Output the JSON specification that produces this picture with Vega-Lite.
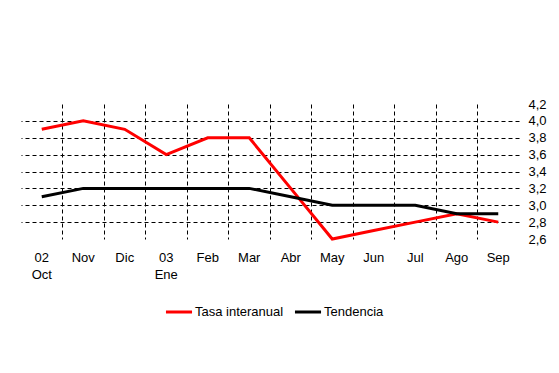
{
  "$schema": "https://vega.github.io/schema/vega-lite/v6.json",
  "width": 498,
  "height": 135,
  "autosize": {"type": "none"},
  "padding": {"left": 21, "top": 104, "right": 40, "bottom": 134},
  "background": "white",
  "config": {
    "view": {"stroke": null},
    "font": "Liberation Sans",
    "axis": {"labelFont": "Liberation Sans", "labelFontSize": 12, "labelColor": "black"},
    "legend": {"labelFont": "Liberation Sans", "labelFontSize": 12, "labelColor": "black"}
  },
  "data": {
    "values": [
      {"mes": "Oct", "serie": "Tasa interanual", "valor": 3.9},
      {"mes": "Nov", "serie": "Tasa interanual", "valor": 4.0},
      {"mes": "Dic", "serie": "Tasa interanual", "valor": 3.9},
      {"mes": "Ene", "serie": "Tasa interanual", "valor": 3.6},
      {"mes": "Feb", "serie": "Tasa interanual", "valor": 3.8},
      {"mes": "Mar", "serie": "Tasa interanual", "valor": 3.8},
      {"mes": "Abr", "serie": "Tasa interanual", "valor": 3.2},
      {"mes": "May", "serie": "Tasa interanual", "valor": 2.6},
      {"mes": "Jun", "serie": "Tasa interanual", "valor": 2.7},
      {"mes": "Jul", "serie": "Tasa interanual", "valor": 2.8},
      {"mes": "Ago", "serie": "Tasa interanual", "valor": 2.9},
      {"mes": "Sep", "serie": "Tasa interanual", "valor": 2.8},
      {"mes": "Oct", "serie": "Tendencia", "valor": 3.1},
      {"mes": "Nov", "serie": "Tendencia", "valor": 3.2},
      {"mes": "Dic", "serie": "Tendencia", "valor": 3.2},
      {"mes": "Ene", "serie": "Tendencia", "valor": 3.2},
      {"mes": "Feb", "serie": "Tendencia", "valor": 3.2},
      {"mes": "Mar", "serie": "Tendencia", "valor": 3.2},
      {"mes": "Abr", "serie": "Tendencia", "valor": 3.1},
      {"mes": "May", "serie": "Tendencia", "valor": 3.0},
      {"mes": "Jun", "serie": "Tendencia", "valor": 3.0},
      {"mes": "Jul", "serie": "Tendencia", "valor": 3.0},
      {"mes": "Ago", "serie": "Tendencia", "valor": 2.9},
      {"mes": "Sep", "serie": "Tendencia", "valor": 2.9}
    ]
  },
  "mark": {"type": "line", "strokeWidth": 3, "strokeJoin": "miter"},
  "encoding": {
    "x": {
      "field": "mes",
      "type": "nominal",
      "sort": null,
      "scale": {"type": "band", "paddingInner": 0, "paddingOuter": 0},
      "axis": {
        "title": null,
        "domain": false,
        "ticks": false,
        "labelAngle": 0,
        "labelPadding": 12,
        "labelBaseline": "top",
        "labelFontSize": 13,
        "labelLineHeight": 17,
        "labelExpr": "datum.value == 'Oct' ? ['02', 'Oct'] : (datum.value == 'Ene' ? ['03', 'Ene'] : datum.value)",
        "grid": true,
        "bandPosition": 0,
        "gridColor": "black",
        "gridDash": [4, 3],
        "gridWidth": 1,
        "gridOpacity": {"condition": {"test": "datum.value == 'Oct'", "value": 0}, "value": 1}
      }
    },
    "y": {
      "field": "valor",
      "type": "quantitative",
      "scale": {"domain": [2.6, 4.2], "nice": false, "zero": false},
      "axis": {
        "orient": "right",
        "title": null,
        "domain": false,
        "ticks": false,
        "values": [2.6, 2.8, 3.0, 3.2, 3.4, 3.6, 3.8, 4.0, 4.2],
        "labelExpr": "replace(format(datum.value, '.1f'), '.', ',')",
        "labelPadding": 9,
        "labelFontSize": 13,
        "grid": true,
        "gridColor": "black",
        "gridDash": [4, 3],
        "gridWidth": 1,
        "gridOpacity": {"condition": {"test": "datum.value < 2.7 || datum.value > 4.1", "value": 0}, "value": 1}
      }
    },
    "color": {
      "field": "serie",
      "type": "nominal",
      "scale": {"domain": ["Tasa interanual", "Tendencia"], "range": ["#ff0000", "#000000"]},
      "legend": {
        "title": null,
        "orient": "none",
        "legendX": 143,
        "legendY": 193,
        "direction": "horizontal",
        "symbolType": "stroke",
        "symbolStrokeWidth": 3,
        "symbolSize": 680,
        "labelOffset": 1,
        "labelFontSize": 13,
        "columnPadding": 4
      }
    }
  }
}
